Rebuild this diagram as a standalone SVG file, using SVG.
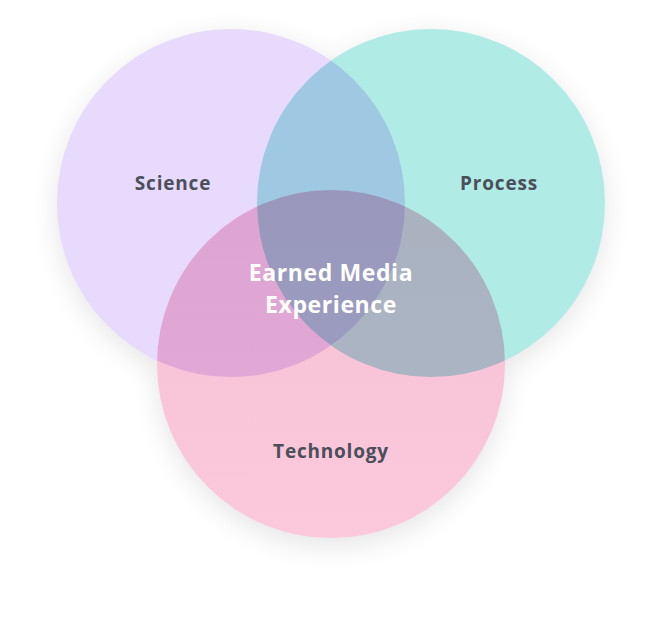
<svg xmlns="http://www.w3.org/2000/svg" width="662" height="623" viewBox="0 0 662 623">
<style>
.c{mix-blend-mode:multiply}
.t{font-family:"Open Sans","Liberation Sans",sans-serif;font-weight:700;font-size:19px;letter-spacing:0.8px;fill:#4b4f5a;text-anchor:middle}
.w{font-family:"Open Sans","Liberation Sans",sans-serif;font-weight:700;font-size:23px;letter-spacing:0.6px;fill:#ffffff;text-anchor:middle}
</style>
<defs>
<filter id="sh" x="-30%" y="-30%" width="160%" height="160%"><feGaussianBlur stdDeviation="14"/></filter>
<linearGradient id="pk" x1="0" y1="0" x2="0" y2="1"><stop offset="0" stop-color="#f6c0d4"/><stop offset="1" stop-color="#fbc8dc"/></linearGradient>
</defs>
<rect width="662" height="623" fill="#ffffff"/>
<g opacity="0.1" filter="url(#sh)">
<circle cx="231" cy="210" r="174" fill="#000"/>
<circle cx="431" cy="210" r="174" fill="#000"/>
<circle cx="331" cy="372" r="174" fill="#000"/>
</g>
<g style="isolation:isolate">
<g id="science"><circle cx="231" cy="203" r="174" fill="#e7dafc"/></g>
<g id="process"><circle class="c" cx="431" cy="203" r="174" fill="#b0ebe6"/></g>
<g id="technology"><circle class="c" cx="331" cy="364" r="174" fill="url(#pk)"/></g>
</g>
<g id="labels">
<text class="t" x="173" y="190">Science</text>
<text class="t" x="499" y="190">Process</text>
<text class="t" x="331" y="458">Technology</text>
<text class="w" x="331" y="281">Earned Media</text>
<text class="w" x="331" y="313">Experience</text>
</g>
<g id="connectors"/>
</svg>
